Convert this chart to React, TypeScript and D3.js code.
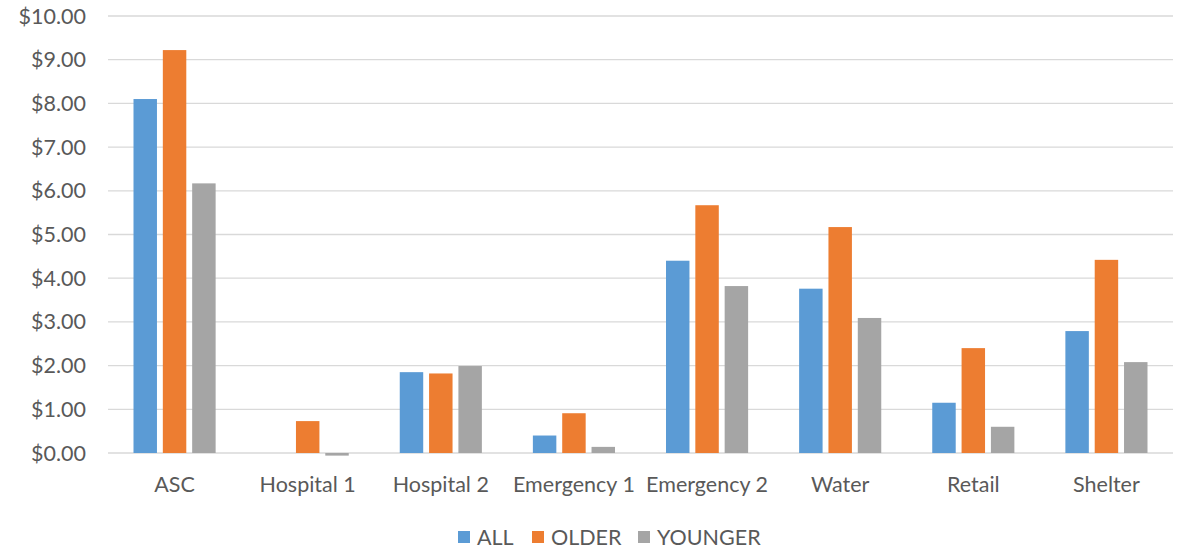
import React from "react";
import * as d3 from "d3";

const categories = ["ASC", "Hospital 1", "Hospital 2", "Emergency 1", "Emergency 2", "Water", "Retail", "Shelter"];
const seriesNames = ["ALL", "OLDER", "YOUNGER"];
const allValues = [8.1, 0, 1.85, 0.4, 4.4, 3.76, 1.15, 2.79];
const olderValues = [9.22, 0.73, 1.82, 0.91, 5.67, 5.17, 2.4, 4.42];
const youngerValues = [6.17, -0.06, 1.99, 0.14, 3.82, 3.09, 0.6, 2.08];
const yTicks = [0, 1, 2, 3, 4, 5, 6, 7, 8, 9, 10];
const colors = ["#5B9BD5", "#ED7D31", "#A5A5A5"];

const W = 1183;
const H = 552;
const left = 108;
const right = 1173;
const top = 16;
const bottom = 453;
const font = "Lato, 'Open Sans', sans-serif";
const fs = 21.5;

export default function App() {
  const seriesValues = [allValues, olderValues, youngerValues];
  const x = d3.scaleBand<string>().domain(categories).range([left, right]).paddingInner(0).paddingOuter(0);
  const inner = d3.scaleBand<string>().domain(seriesNames).range([25.5, x.bandwidth() - 25.5]).paddingInner(0.2).paddingOuter(0);
  const y = d3.scaleLinear().domain([0, 10]).range([bottom, top]);
  const fmt = (v: number) => "$" + d3.format(".2f")(v);

  const legendX = [458, 532, 638];

  return (
    <svg width={W} height={H} style={{ position: "absolute", left: 0, top: 0, background: "#fff" }}>
      {yTicks.map((t) => (
        <g key={t}>
          <line x1={left} x2={right} y1={y(t)} y2={y(t)} stroke="#D9D9D9" strokeWidth={1.3} />
          <text x={86} y={y(t)} dy="0.35em" textAnchor="end" fontFamily={font} fontSize={fs} fill="#595959">
            {fmt(t)}
          </text>
        </g>
      ))}
      {seriesNames.map((s, si) =>
        categories.map((c, ci) => {
          const v = seriesValues[si][ci];
          const y0 = y(0);
          const y1 = y(v);
          return (
            <rect
              key={s + c}
              x={(x(c) as number) + (inner(s) as number)}
              y={Math.min(y0, y1)}
              width={inner.bandwidth()}
              height={Math.abs(y1 - y0)}
              fill={colors[si]}
            />
          );
        })
      )}
      {categories.map((c) => (
        <text key={c} x={(x(c) as number) + x.bandwidth() / 2} y={484} dy="0.35em" textAnchor="middle" fontFamily={font} fontSize={fs} fill="#595959">
          {c}
        </text>
      ))}
      {seriesNames.map((s, i) => (
        <g key={s}>
          <rect x={legendX[i]} y={531} width={12} height={12} fill={colors[i]} />
          <text x={legendX[i] + 19} y={537} dy="0.35em" fontFamily={font} fontSize={fs} fill="#595959">
            {s}
          </text>
        </g>
      ))}
    </svg>
  );
}
